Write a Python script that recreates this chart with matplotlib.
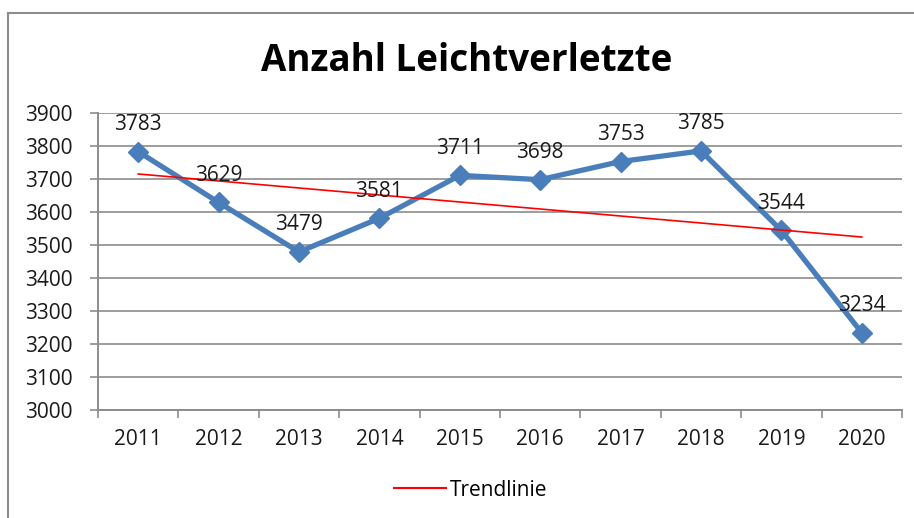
import numpy as np
import matplotlib
matplotlib.use("Agg")
import matplotlib.pyplot as plt
from matplotlib.lines import Line2D

plt.rcParams["font.family"] = ["Open Sans", "DejaVu Sans"]

YEARS = ["2011", "2012", "2013", "2014", "2015", "2016", "2017", "2018", "2019", "2020"]
VALUES = [3783, 3629, 3479, 3581, 3711, 3698, 3753, 3785, 3544, 3234]
TITLE = "Anzahl Leichtverletzte"
TREND_LABEL = "Trendlinie"

BLUE = "#4A7EBB"
GRID = "#8C8C8C"
TXT = "#1a1a1a"

fig = plt.figure(figsize=(9.14, 5.18), dpi=100)
ax = fig.add_axes([98 / 914, 1 - 410 / 518, (902 - 98) / 914, (410 - 113) / 518])

x = np.arange(len(YEARS))
ax.plot(x, VALUES, color=BLUE, lw=3.8, marker="D", ms=10, zorder=3)

# linear trendline like Excel's
k, d = np.polyfit(x, VALUES, 1)
ax.plot(x, k * x + d, color="#FF0000", lw=1.2, zorder=4, label=TREND_LABEL)

for xi, v in zip(x, VALUES):
    ax.annotate(str(v), (xi, v), xytext=(0, 12), textcoords="offset points",
                ha="center", va="bottom", fontsize=15, color=TXT, zorder=5)

ax.set_xlim(-0.5, len(YEARS) - 0.5)
ax.set_ylim(3000, 3900)
ax.set_yticks(np.arange(3000, 3901, 100))
ax.set_xticks(x)
ax.set_xticklabels(YEARS)
ax.set_xticks(np.arange(-0.5, len(YEARS)), minor=True)
ax.tick_params(axis="x", which="major", length=0, pad=14, labelsize=15, labelcolor=TXT)
ax.tick_params(axis="x", which="minor", length=6, width=1.2, color=GRID, direction="out")
ax.tick_params(axis="y", length=6, width=1.2, color=GRID, labelsize=15, labelcolor=TXT, pad=12)
ax.grid(axis="y", color=GRID, lw=1.2)
ax.set_axisbelow(True)
for s in ["top", "right"]:
    ax.spines[s].set_visible(False)
for s in ["left", "bottom"]:
    ax.spines[s].set_color(GRID)
    ax.spines[s].set_linewidth(1.4)

fig.text(467 / 914, 1 - 61 / 518, TITLE, ha="center", va="center", fontsize=26.5, fontweight="bold")

fig.legend(handles=[Line2D([], [], color="#FF0000", lw=1.5)], labels=[TREND_LABEL],
           loc="center", bbox_to_anchor=(471 / 914, 1 - 490 / 518), frameon=False,
           fontsize=15, handlelength=2.5, handletextpad=0.2)

# chart border (left and top visible)
fig.add_artist(Line2D([8 / 914, 8 / 914], [0, 1 - 13 / 518], color=GRID, lw=1.5, transform=fig.transFigure))
fig.add_artist(Line2D([8 / 914, 1], [1 - 13 / 518, 1 - 13 / 518], color=GRID, lw=1.5, transform=fig.transFigure))

fig.savefig("out.png", dpi=100)
